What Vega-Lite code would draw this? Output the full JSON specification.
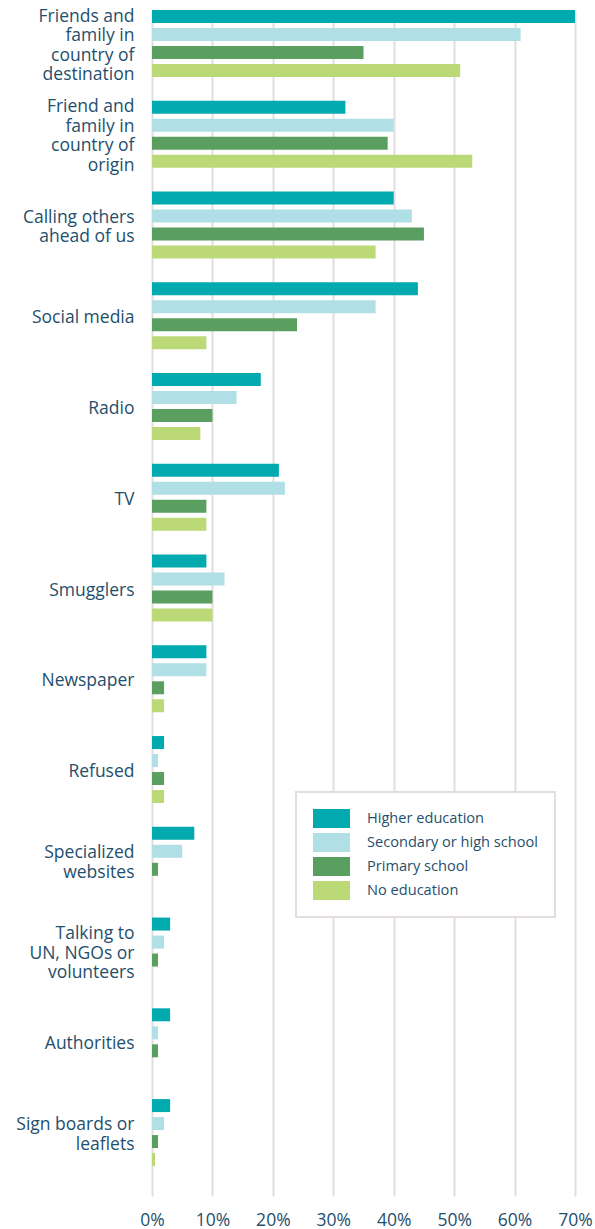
{
  "$schema": "https://vega.github.io/schema/vega-lite/v6.json",
  "autosize": "none",
  "width": 423,
  "height": 1186,
  "padding": {"left": 152, "top": 10, "right": 20, "bottom": 33},
  "background": "white",
  "config": {
    "view": {"stroke": null},
    "font": "Open Sans"
  },
  "data": {
    "values": [
      {"source": "Friends and family in country of destination", "education": "Higher education", "pct": 70},
      {"source": "Friends and family in country of destination", "education": "Secondary or high school", "pct": 61},
      {"source": "Friends and family in country of destination", "education": "Primary school", "pct": 35},
      {"source": "Friends and family in country of destination", "education": "No education", "pct": 51},
      {"source": "Friend and family in country of origin", "education": "Higher education", "pct": 32},
      {"source": "Friend and family in country of origin", "education": "Secondary or high school", "pct": 40},
      {"source": "Friend and family in country of origin", "education": "Primary school", "pct": 39},
      {"source": "Friend and family in country of origin", "education": "No education", "pct": 53},
      {"source": "Calling others ahead of us", "education": "Higher education", "pct": 40},
      {"source": "Calling others ahead of us", "education": "Secondary or high school", "pct": 43},
      {"source": "Calling others ahead of us", "education": "Primary school", "pct": 45},
      {"source": "Calling others ahead of us", "education": "No education", "pct": 37},
      {"source": "Social media", "education": "Higher education", "pct": 44},
      {"source": "Social media", "education": "Secondary or high school", "pct": 37},
      {"source": "Social media", "education": "Primary school", "pct": 24},
      {"source": "Social media", "education": "No education", "pct": 9},
      {"source": "Radio", "education": "Higher education", "pct": 18},
      {"source": "Radio", "education": "Secondary or high school", "pct": 14},
      {"source": "Radio", "education": "Primary school", "pct": 10},
      {"source": "Radio", "education": "No education", "pct": 8},
      {"source": "TV", "education": "Higher education", "pct": 21},
      {"source": "TV", "education": "Secondary or high school", "pct": 22},
      {"source": "TV", "education": "Primary school", "pct": 9},
      {"source": "TV", "education": "No education", "pct": 9},
      {"source": "Smugglers", "education": "Higher education", "pct": 9},
      {"source": "Smugglers", "education": "Secondary or high school", "pct": 12},
      {"source": "Smugglers", "education": "Primary school", "pct": 10},
      {"source": "Smugglers", "education": "No education", "pct": 10},
      {"source": "Newspaper", "education": "Higher education", "pct": 9},
      {"source": "Newspaper", "education": "Secondary or high school", "pct": 9},
      {"source": "Newspaper", "education": "Primary school", "pct": 2},
      {"source": "Newspaper", "education": "No education", "pct": 2},
      {"source": "Refused", "education": "Higher education", "pct": 2},
      {"source": "Refused", "education": "Secondary or high school", "pct": 1},
      {"source": "Refused", "education": "Primary school", "pct": 2},
      {"source": "Refused", "education": "No education", "pct": 2},
      {"source": "Specialized websites", "education": "Higher education", "pct": 7},
      {"source": "Specialized websites", "education": "Secondary or high school", "pct": 5},
      {"source": "Specialized websites", "education": "Primary school", "pct": 1},
      {"source": "Specialized websites", "education": "No education", "pct": 0},
      {"source": "Talking to UN, NGOs or volunteers", "education": "Higher education", "pct": 3},
      {"source": "Talking to UN, NGOs or volunteers", "education": "Secondary or high school", "pct": 2},
      {"source": "Talking to UN, NGOs or volunteers", "education": "Primary school", "pct": 1},
      {"source": "Talking to UN, NGOs or volunteers", "education": "No education", "pct": 0},
      {"source": "Authorities", "education": "Higher education", "pct": 3},
      {"source": "Authorities", "education": "Secondary or high school", "pct": 1},
      {"source": "Authorities", "education": "Primary school", "pct": 1},
      {"source": "Authorities", "education": "No education", "pct": 0},
      {"source": "Sign boards or leaflets", "education": "Higher education", "pct": 3},
      {"source": "Sign boards or leaflets", "education": "Secondary or high school", "pct": 2},
      {"source": "Sign boards or leaflets", "education": "Primary school", "pct": 1},
      {"source": "Sign boards or leaflets", "education": "No education", "pct": 0.5}
    ]
  },
  "mark": {"type": "bar"},
  "encoding": {
    "y": {
      "field": "source",
      "type": "nominal",
      "sort": null,
      "scale": {"paddingInner": 0.262, "paddingOuter": 0.165, "align": 0},
      "axis": {
        "title": null,
        "ticks": false,
        "domain": false,
        "labelPadding": 18,
        "labelFontSize": 17.5,
        "labelColor": "#1f4f6d",
        "labelLineHeight": 19.5,
        "labelLimit": 200,
        "labelOffset": {
          "condition": [
            {"test": "datum.value == 'Friends and family in country of destination' || datum.value == 'Friend and family in country of origin'", "value": -26.75},
            {"test": "datum.value == 'Talking to UN, NGOs or volunteers'", "value": -17},
            {"test": "datum.value == 'Calling others ahead of us' || datum.value == 'Specialized websites' || datum.value == 'Sign boards or leaflets'", "value": -7.25}
          ],
          "value": 2.5
        },
        "labelExpr": "datum.label == 'Friends and family in country of destination' ? ['Friends and','family in','country of','destination'] : datum.label == 'Friend and family in country of origin' ? ['Friend and','family in','country of','origin'] : datum.label == 'Calling others ahead of us' ? ['Calling others','ahead of us'] : datum.label == 'Specialized websites' ? ['Specialized','websites'] : datum.label == 'Talking to UN, NGOs or volunteers' ? ['Talking to','UN, NGOs or','volunteers'] : datum.label == 'Sign boards or leaflets' ? ['Sign boards or','leaflets'] : datum.label"
      }
    },
    "yOffset": {
      "field": "education",
      "type": "nominal",
      "sort": ["Higher education", "Secondary or high school", "Primary school", "No education"],
      "scale": {"paddingInner": 0.278, "paddingOuter": 0}
    },
    "x": {
      "field": "pct",
      "type": "quantitative",
      "scale": {"domain": [0, 70], "nice": false},
      "axis": {
        "title": null,
        "values": [0, 10, 20, 30, 40, 50, 60, 70],
        "labelExpr": "datum.value + '%'",
        "labelFlush": false,
        "ticks": false,
        "domain": false,
        "grid": true,
        "gridColor": "#e4dddf",
        "gridWidth": 2,
        "gridOpacity": 1,
        "labelPadding": 15,
        "labelFontSize": 17.5,
        "labelColor": "#1f4f6d"
      }
    },
    "color": {
      "field": "education",
      "type": "nominal",
      "sort": ["Higher education", "Secondary or high school", "Primary school", "No education"],
      "scale": {
        "domain": ["Higher education", "Secondary or high school", "Primary school", "No education"],
        "range": ["#00aaae", "#b0dfe5", "#5a9e60", "#bcd977"]
      },
      "legend": {
        "title": null,
        "orient": "none",
        "legendX": 144,
        "legendY": 782,
        "padding": 17,
        "fillColor": "white",
        "strokeColor": "#e4dddf",
        "symbolType": "M-1.947,-1H1.947V1H-1.947Z",
        "symbolSize": 361,
        "symbolOffset": 9,
        "symbolStrokeWidth": 0,
        "symbolOpacity": 1,
        "labelOffset": 26,
        "labelFontSize": 14.6,
        "labelColor": "#1f4f6d",
        "rowPadding": 5,
        "labelLimit": 300,
        "encode": {"legend": {"update": {"strokeWidth": {"value": 2}}}}
      }
    }
  }
}
